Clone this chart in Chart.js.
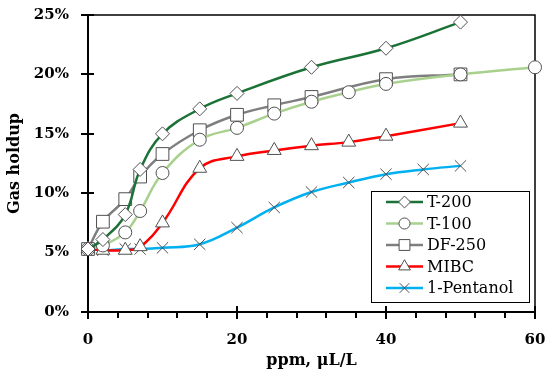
<!DOCTYPE html>
<html>
<head>
<meta charset="utf-8">
<script src="https://cdn.jsdelivr.net/npm/chart.js@4"></script>
<style>
  html, body { margin: 0; padding: 0; background: #fff; }
  #wrap { width: 550px; height: 373px; }
</style>
</head>
<body>
<div id="wrap"><canvas id="chart" width="550" height="373"></canvas></div>
<script>
// gas holdup (%) vs frother dosage (ppm, uL/L)
const ppmT200 = [0, 2, 5, 7, 10, 15, 20, 30, 40, 50];
const holdupT200 = [5.3, 6.1, 8.2, 12.0, 15.0, 17.1, 18.4, 20.6, 22.2, 24.4];

const ppmT100 = [0, 2, 5, 7, 10, 15, 20, 25, 30, 35, 40, 50, 60];
const holdupT100 = [5.3, 5.6, 6.7, 8.5, 11.7, 14.5, 15.5, 16.7, 17.7, 18.5, 19.2, 20.0, 20.6];

const ppmDF250 = [0, 2, 5, 7, 10, 15, 20, 25, 30, 40, 50];
const holdupDF250 = [5.3, 7.6, 9.5, 11.4, 13.3, 15.3, 16.6, 17.4, 18.1, 19.6, 20.0];

const ppmMIBC = [0, 2, 5, 7, 10, 15, 20, 25, 30, 35, 40, 50];
const holdupMIBC = [5.3, 5.2, 5.2, 5.5, 7.5, 12.1, 13.1, 13.6, 14.0, 14.3, 14.8, 15.9];

const ppmPentanol = [0, 2, 5, 7, 10, 15, 20, 25, 30, 35, 40, 45, 50];
const holdupPentanol = [5.3, 5.2, 5.3, 5.3, 5.4, 5.7, 7.1, 8.8, 10.1, 10.9, 11.6, 12.0, 12.3];

const seriesNames = ['T-200', 'T-100', 'DF-250', 'MIBC', '1-Pentanol'];
const xTickLabels = [0, 20, 40, 60];
const yTickLabels = [0, 5, 10, 15, 20, 25];

const SERIF = '"DejaVu Serif", "Liberation Serif", serif';

const toPoints = (xs, ys) => xs.map((x, i) => ({ x, y: ys[i] }));

const makeSet = (label, xs, ys, color, style, radius) => ({
  label,
  data: toPoints(xs, ys),
  borderColor: color,
  borderWidth: 2.5,
  tension: 0.4,
  clip: false,
  pointStyle: style,
  pointRadius: radius,
  pointHoverRadius: radius,
  pointBackgroundColor: '#fff',
  pointBorderColor: '#505050',
  pointBorderWidth: 1,
});

const datasets = [
  makeSet(seriesNames[0], ppmT200, holdupT200, '#1b7236', 'rectRot', 7),
  makeSet(seriesNames[1], ppmT100, holdupT100, '#a9d18e', 'circle', 6.5),
  makeSet(seriesNames[2], ppmDF250, holdupDF250, '#7f7f7f', 'rect', 9),
  makeSet(seriesNames[3], ppmMIBC, holdupMIBC, '#ff0000', 'triangle', 8),
  makeSet(seriesNames[4], ppmPentanol, holdupPentanol, '#00b0f0', 'crossRot', 8),
];

// frame on top/right plus the tick marks
const axisTicks = {
  id: 'axisTicks',
  beforeDatasetsDraw(chart) {
    const { ctx, chartArea: a, scales: { x, y } } = chart;
    ctx.save();
    ctx.strokeStyle = '#000';
    ctx.lineWidth = 1.5;
    ctx.beginPath();
    ctx.moveTo(a.left, a.top);
    ctx.lineTo(a.right, a.top);
    ctx.lineTo(a.right, a.bottom);
    ctx.stroke();

    ctx.lineWidth = 2;
    ctx.beginPath();
    for (let v = 0; v <= 60; v += 4) {
      const px = Math.round(x.getPixelForValue(v));
      const major = xTickLabels.includes(v);
      ctx.moveTo(px, a.bottom - (major ? 6 : 0));
      ctx.lineTo(px, a.bottom + (major ? 7 : 6));
    }
    yTickLabels.forEach((v) => {
      const py = Math.round(y.getPixelForValue(v));
      ctx.moveTo(a.left - 7, py);
      ctx.lineTo(a.left + 6, py);
    });
    ctx.stroke();
    ctx.restore();
  },
};

const boxLegend = {
  id: 'boxLegend',
  afterDraw(chart) {
    const { ctx } = chart;
    const box = { x: 371, y: 191, w: 158, h: 111 };
    ctx.save();
    ctx.fillStyle = '#fff';
    ctx.fillRect(box.x, box.y, box.w, box.h);
    ctx.strokeStyle = '#000';
    ctx.lineWidth = 1;
    ctx.strokeRect(box.x + 0.5, box.y + 0.5, box.w, box.h);

    ctx.font = '16px ' + SERIF;
    ctx.textBaseline = 'middle';
    chart.data.datasets.forEach((ds, i) => {
      const ry = 202 + i * 21.5;
      ctx.strokeStyle = ds.borderColor;
      ctx.lineWidth = ds.borderWidth;
      ctx.beginPath();
      ctx.moveTo(386, ry);
      ctx.lineTo(423, ry);
      ctx.stroke();
      ctx.fillStyle = '#fff';
      ctx.strokeStyle = ds.pointBorderColor;
      ctx.lineWidth = 1;
      Chart.helpers.drawPoint(ctx, {
        pointStyle: ds.pointStyle,
        radius: ds.pointRadius * 0.85,
        borderWidth: 1,
        rotation: 0,
      }, 404.5, ry);
      ctx.fillStyle = '#000';
      ctx.fillText(ds.label, 427, ry + 1);
    });
    ctx.restore();
  },
};

new Chart(document.getElementById('chart'), {
  type: 'line',
  data: { datasets },
  options: {
    responsive: false,
    animation: false,
    layout: { padding: { left: 0, top: 15, right: 15, bottom: 0 } },
    plugins: { legend: { display: false }, tooltip: { enabled: false } },
    scales: {
      x: {
        type: 'linear',
        min: 0,
        max: 60,
        afterFit: (s) => {
          s.height = 61;
          s.paddingLeft = 0;
          s.paddingRight = 0;
        },
        afterBuildTicks: (s) => { s.ticks = xTickLabels.map((v) => ({ value: v })); },
        grid: { display: false, drawTicks: false },
        border: { display: true, color: '#000', width: 2 },
        ticks: { color: '#000', padding: 19, font: { family: SERIF, size: 15, weight: 'bold' } },
        title: {
          display: true,
          text: 'ppm, μL/L',
          color: '#000',
          padding: { top: 0, bottom: 3 },
          font: { family: SERIF, size: 16, weight: 'bold' },
        },
      },
      y: {
        min: 0,
        max: 25,
        afterFit: (s) => {
          s.width = 88;
          s.paddingTop = 0;
          s.paddingBottom = 0;
        },
        afterBuildTicks: (s) => { s.ticks = yTickLabels.map((v) => ({ value: v })); },
        grid: { display: false, drawTicks: false },
        border: { display: true, color: '#000', width: 2 },
        ticks: {
          color: '#000',
          padding: 19,
          font: { family: SERIF, size: 15, weight: 'bold' },
          callback: (v) => v + '%',
        },
        title: {
          display: true,
          text: 'Gas holdup',
          color: '#000',
          padding: { top: 5, bottom: 0 },
          font: { family: SERIF, size: 16, weight: 'bold' },
        },
      },
    },
  },
  plugins: [axisTicks, boxLegend],
});
</script>
</body>
</html>
